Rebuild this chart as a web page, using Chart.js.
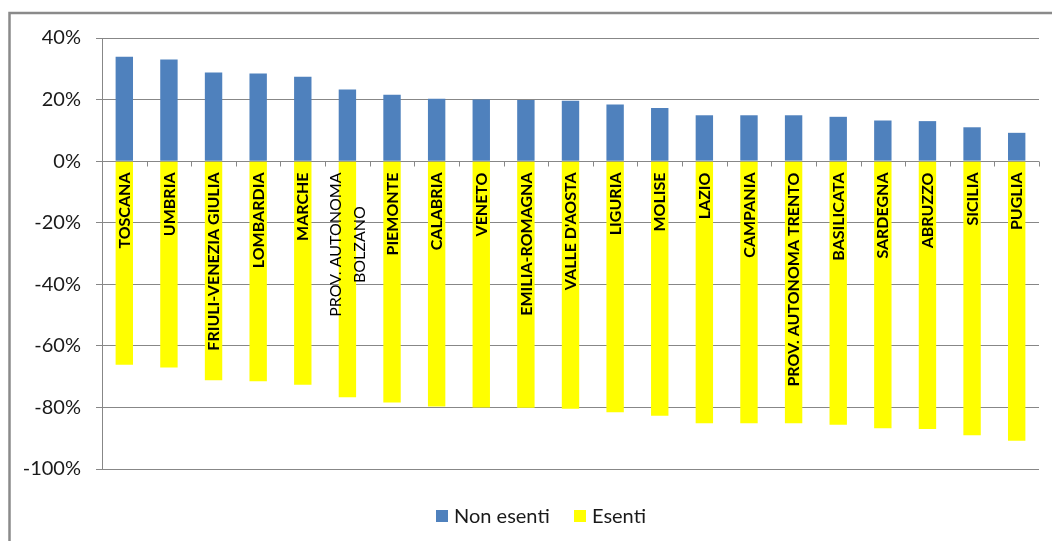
<!DOCTYPE html>
<html>
<head>
<meta charset="utf-8">
<script src="https://cdn.jsdelivr.net/npm/chart.js@4.4.1/dist/chart.umd.min.js"></script>
<style>
  html, body { margin: 0; padding: 0; background: #ffffff; }
  #wrap { width: 1052px; height: 541px; position: relative; }
</style>
</head>
<body>
<div id="wrap"><canvas id="chart" width="1052" height="541"></canvas></div>
<script>
// Regions (multi-line labels are given as arrays of lines)
const categories = [
  'TOSCANA', 'UMBRIA', 'FRIULI-VENEZIA GIULIA', 'LOMBARDIA', 'MARCHE',
  ['PROV. AUTONOMA', 'BOLZANO'], 'PIEMONTE', 'CALABRIA', 'VENETO', 'EMILIA-ROMAGNA',
  "VALLE D'AOSTA", 'LIGURIA', 'MOLISE', 'LAZIO', 'CAMPANIA',
  'PROV. AUTONOMA TRENTO', 'BASILICATA', 'SARDEGNA', 'ABRUZZO', 'SICILIA', 'PUGLIA'
];

// Share of prescriptions (%) - positive: non-exempt, negative: exempt
const nonEsenti = [33.9, 33.0, 28.8, 28.5, 27.4, 23.3, 21.6, 20.3, 20.0, 19.9, 19.6, 18.4, 17.3, 14.9, 14.9, 14.9, 14.4, 13.2, 13.0, 11.0, 9.2];
const esenti    = [-66.1, -67.0, -71.2, -71.5, -72.6, -76.7, -78.4, -79.7, -80.0, -80.1, -80.4, -81.6, -82.7, -85.1, -85.1, -85.1, -85.6, -86.8, -87.0, -89.0, -90.8];

const seriesNames = ['Non esenti', 'Esenti'];
const seriesColors = ['#4F81BD', '#FFFF00'];

// Value axis range and step (tick labels are these values followed by %)
const yMin = -100, yMax = 40, yStep = 20;

const FONT = 'Lato, "Open Sans", sans-serif';
const GRID = '#878787';

const decorations = {
  id: 'decorations',
  beforeDraw(chart) {
    const ctx = chart.ctx;
    ctx.save();
    ctx.fillStyle = '#ffffff';
    ctx.fillRect(0, 0, chart.width, chart.height);
    // outer chart frame (continues past the right and bottom edges)
    ctx.strokeStyle = '#8a8a8a';
    ctx.lineWidth = 2.5;
    ctx.strokeRect(9.5, 13, 1200, 800);
    ctx.restore();
  },
  afterDatasetsDraw(chart) {
    const ctx = chart.ctx;
    const x = chart.scales.x;
    const y = chart.scales.y;
    const zeroY = Math.round(y.getPixelForValue(0)) + 0.5;
    const n = categories.length;
    const step = (x.right - x.left) / n;

    // small tick marks on the zero line between categories
    ctx.save();
    ctx.strokeStyle = GRID;
    ctx.lineWidth = 1;
    ctx.beginPath();
    for (let i = 0; i <= n; i++) {
      const px = Math.round(x.left + i * step) + 0.5;
      ctx.moveTo(px, zeroY);
      ctx.lineTo(px, zeroY + 5);
    }
    ctx.stroke();

    // vertical category labels, reading upwards, starting just under zero
    ctx.fillStyle = '#000000';
    ctx.textBaseline = 'middle';
    ctx.textAlign = 'center';
    categories.forEach((cat, i) => {
      const lines = Array.isArray(cat) ? cat : [cat];
      const multi = lines.length > 1;
      ctx.font = (multi ? '' : 'bold ') + '16px ' + FONT;
      const w = Math.max(...lines.map(l => ctx.measureText(l).width));
      const cx = x.getPixelForValue(i);
      const top = zeroY + 11;
      ctx.save();
      ctx.translate(cx + 0.5, top + w / 2);
      ctx.rotate(-Math.PI / 2);
      const lh = 24;
      lines.forEach((l, k) => {
        ctx.fillText(l, 0, (k - (lines.length - 1) / 2) * lh);
      });
      ctx.restore();
    });
    ctx.restore();
  },
  afterDraw(chart) {
    // legend at the bottom
    const ctx = chart.ctx;
    ctx.save();
    ctx.font = '20px ' + FONT;
    ctx.textBaseline = 'middle';
    ctx.textAlign = 'left';
    const cy = 516;
    const box = 12;
    const starts = [436, 574];
    seriesNames.forEach((name, i) => {
      const sx = starts[i];
      ctx.fillStyle = seriesColors[i];
      ctx.fillRect(sx, cy - 6, box, box);
      ctx.fillStyle = '#1a1a1a';
      ctx.fillText(name, sx + box + 6, cy + 1);
    });
    ctx.restore();
  }
};

new Chart(document.getElementById('chart'), {
  type: 'bar',
  data: {
    labels: categories,
    datasets: [
      { label: seriesNames[0], data: nonEsenti, backgroundColor: seriesColors[0] },
      { label: seriesNames[1], data: esenti, backgroundColor: seriesColors[1] }
    ]
  },
  options: {
    responsive: false,
    animation: false,
    devicePixelRatio: 1,
    layout: { padding: { left: 0, top: 38, right: 13, bottom: 72 } },
    datasets: { bar: { barPercentage: 1, categoryPercentage: 0.39 } },
    plugins: { legend: { display: false }, tooltip: { enabled: false } },
    scales: {
      x: {
        stacked: true,
        display: false
      },
      y: {
        stacked: true,
        min: yMin,
        max: yMax,
        afterFit(scale) { scale.width = 102; },
        ticks: {
          stepSize: yStep,
          padding: 15,
          color: '#1a1a1a',
          font: { family: FONT, size: 20 },
          callback: v => v + '%'
        },
        grid: { color: GRID, lineWidth: 1, tickLength: 6, drawTicks: true },
        border: { display: true, color: GRID, width: 1 }
      }
    }
  },
  plugins: [decorations]
});
</script>
</body>
</html>
